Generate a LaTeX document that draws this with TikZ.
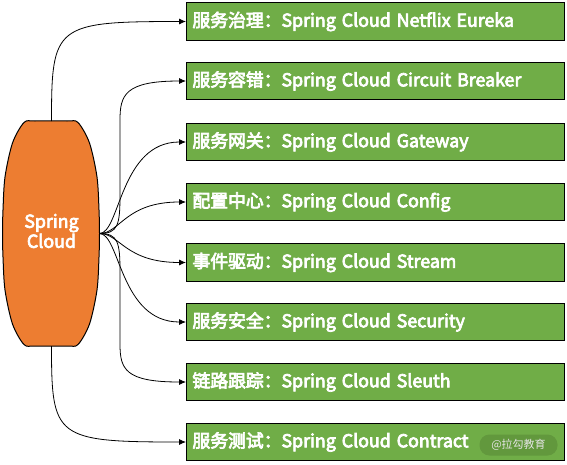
\documentclass[tikz,border=0pt]{standalone}
\usepackage{fontspec}
\setmainfont{Noto Sans CJK SC}
\newfontfamily\boxfont{Noto Sans CJK SC}[FakeBold=4]
\usetikzlibrary{arrows.meta}
\definecolor{scorange}{HTML}{ED7D31}
\definecolor{scgreen}{HTML}{70AD47}
\definecolor{wmgreen}{HTML}{62983D}
\definecolor{wmtext}{HTML}{E4E4E4}
\begin{document}
\begin{tikzpicture}[x=1pt,y=1pt,
  box/.style={draw=black,line width=1pt,fill=scgreen,text=white,anchor=west,
    text width=366pt,inner xsep=6pt,inner ysep=0pt,minimum height=37.5pt,align=left,
    font=\fontsize{17.8}{20}\boxfont},
  conn/.style={draw=black,line width=0.8pt,-{Latex[length=7pt,width=6pt]}}]
\useasboundingbox (0,0) rectangle (567,-464);
% Spring Cloud shape
\draw[fill=scorange,line width=1pt] plot[smooth cycle,tension=0.5] coordinates {
  (35,-121) (67,-121) (78,-122.5) (89.5,-143) (97,-177) (99,-210) (99.5,-233.5) (99,-257) (97,-290)
  (89.5,-324) (78,-344.5) (67,-346) (35,-346) (24,-344.5) (12.5,-324) (5,-290) (3,-257) (2.5,-233.5)
  (3,-210) (5,-177) (12.5,-143) (24,-122.5)};
\node[text=white,align=center,font=\fontsize{17.8}{20}\boxfont] (sc) at (51.5,-231) {Spring\\Cloud};
\coordinate (sctop) at (51.5,-121);
\coordinate (scbot) at (51.5,-346);
\coordinate (scr) at (99.5,-233.5);
% boxes
\node[box] (b1) at (186,-21.5) {服务治理：Spring Cloud Netflix Eureka};
\node[box] (b2) at (186,-81) {服务容错：Spring Cloud Circuit Breaker};
\node[box] (b3) at (186,-142) {服务网关：Spring Cloud Gateway};
\node[box] (b4) at (186,-202) {配置中心：Spring Cloud Config};
\node[box] (b5) at (186,-262.5) {事件驱动：Spring Cloud Stream};
\node[box] (b6) at (186,-322) {服务安全：Spring Cloud Security};
\node[box] (b7) at (186,-382) {链路跟踪：Spring Cloud Sleuth};
\node[box] (b8) at (186,-442) {服务测试：Spring Cloud Contract};
% watermark
\node[fill=wmgreen,rounded corners=10pt,text=wmtext,minimum width=78pt,minimum height=21pt,inner sep=0pt,
  font=\fontsize{11}{12}\selectfont] (wm) at (518.5,-445) {@拉勾教育};
% connectors
\draw[conn] (sctop) .. controls (51.5,-25) and (55,-21.5) .. (b1.west);
\draw[conn] (scr) .. controls (118,-233.5) and (120,-225) .. (120,-195) -- (120,-120) .. controls (120,-95) and (125,-81) .. (b2.west);
\draw[conn] (scr) .. controls (120,-233.5) and (120,-142) .. (b3.west);
\draw[conn] (scr) .. controls (120,-233.5) and (125,-202) .. (b4.west);
\draw[conn] (scr) .. controls (120,-233.5) and (125,-262.5) .. (b5.west);
\draw[conn] (scr) .. controls (120,-233.5) and (120,-322) .. (b6.west);
\draw[conn] (scr) .. controls (118,-233.5) and (120,-242) .. (120,-272) -- (120,-344) .. controls (120,-369) and (125,-382) .. (b7.west);
\draw[conn] (scbot) .. controls (51.5,-438) and (55,-442) .. (b8.west);
\end{tikzpicture}
\end{document}
